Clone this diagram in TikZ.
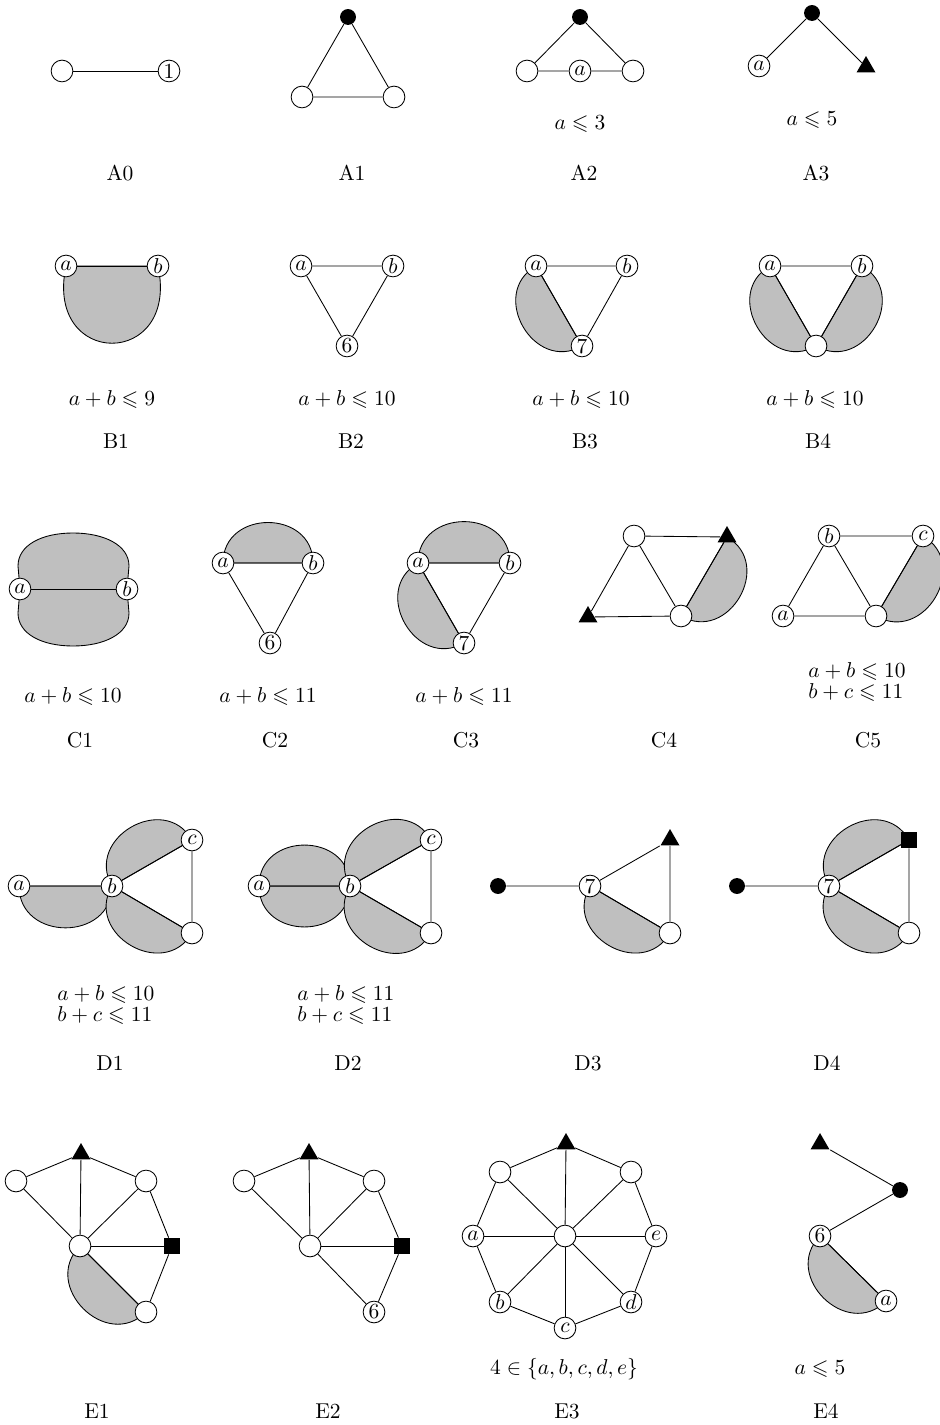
\documentclass[tikz,border=0pt]{standalone}
\usepackage{amssymb}
\usetikzlibrary{calc,shapes.geometric,backgrounds}
\tikzset{
  v/.style={circle,draw,fill=white,inner sep=0pt,minimum size=10.1pt},
  bd/.style={circle,fill=black,inner sep=0pt,minimum size=7.4pt},
  tri/.style={regular polygon,regular polygon sides=3,fill=black,inner sep=0pt,minimum size=10.2pt},
  sq/.style={rectangle,fill=black,inner sep=0pt,minimum size=7.4pt},
  lensf/.style={draw,fill=gray!50},
  txt/.style={inner sep=0pt},
  txttwo/.style={inner sep=0pt,align=left,anchor=west}
}
\newcommand{\lens}[3][0.6]{\path[lensf] (#2.center) .. controls ($(#2.center)!#1!-90:(#3.center)$) and ($(#3.center)!#1!90:(#2.center)$) .. (#3.center) -- cycle;}
\begin{document}
\begin{tikzpicture}[x=0.465pt,y=-0.465pt]
\useasboundingbox (0,0) rectangle (939,1425);
% ---------- row A
\node[v] (a0l) at (62,71) {};
\node[v] (a0r) at (169,71) {1};
\node[bd] (a1t) at (348,17) {};
\node[v] (a1l) at (302,97) {};
\node[v] (a1r) at (394,97) {};
\node[bd] (a2t) at (580,17) {};
\node[v] (a2l) at (527,71) {};
\node[v] (a2m) at (580,71) {$a$};
\node[v] (a2r) at (633,71) {};
\node[bd] (a3t) at (812,13) {};
\node[v] (a3a) at (759,66) {$a$};
\node[tri] (a3r) at (866,67) {};
\node[txt] (iA2) at (580,124) {$a\leqslant 3$};
\node[txt] (iA3) at (812,120) {$a\leqslant 5$};
\node[txt] (tA0) at (120,173) {A0};
\node[txt] (tA1) at (352,173) {A1};
\node[txt] (tA2) at (584,173) {A2};
\node[txt] (tA3) at (816,173) {A3};
% ---------- row B
\node[v] (b1a) at (66,266) {$a$};
\node[v] (b1b) at (158,266) {$b$};
\node[v] (b2a) at (301,266) {$a$};
\node[v] (b2b) at (393,266) {$b$};
\node[v] (b2c) at (347,346) {6};
\node[v] (b3a) at (536,266) {$a$};
\node[v] (b3b) at (627,266) {$b$};
\node[v] (b3c) at (582,346) {7};
\node[v] (b4a) at (770,266) {$a$};
\node[v] (b4b) at (862,266) {$b$};
\node[v] (b4c) at (816,346) {};
\node[txt] (iB1) at (112,400) {$a+b\leqslant 9$};
\node[txt] (iB2) at (347,400) {$a+b\leqslant 10$};
\node[txt] (iB3) at (581,400) {$a+b\leqslant 10$};
\node[txt] (iB4) at (815,400) {$a+b\leqslant 10$};
\node[txt] (tB1) at (116,441) {B1};
\node[txt] (tB2) at (351,441) {B2};
\node[txt] (tB3) at (585,441) {B3};
\node[txt] (tB4) at (818,441) {B4};
% ---------- row C
\node[v] (c1a) at (20,589) {$a$};
\node[v] (c1b) at (127,589) {$b$};
\node[v] (c2a) at (223,563) {$a$};
\node[v] (c2b) at (313,563) {$b$};
\node[v] (c2c) at (270,643) {6};
\node[v] (c3a) at (418,563) {$a$};
\node[v] (c3b) at (510,563) {$b$};
\node[v] (c3c) at (464,643) {7};
\node[v] (c4tl) at (634,536) {};
\node[tri] (c4tr) at (727,537) {};
\node[tri] (c4bl) at (588,617) {};
\node[v] (c4br) at (681,616) {};
\node[v] (c5b) at (829,536) {$b$};
\node[v] (c5c) at (923,536) {$c$};
\node[v] (c5a) at (783,616) {$a$};
\node[v] (c5d) at (876,616) {};
\node[txt] (iC1) at (73,696) {$a+b\leqslant 10$};
\node[txt] (iC2) at (268,696) {$a+b\leqslant 11$};
\node[txt] (iC3) at (464,696) {$a+b\leqslant 11$};
\node[txttwo] (iC5) at (808,682) {$a+b\leqslant 10$\\[-2.4pt]$b+c\leqslant 11$};
\node[txt] (tC1) at (80,740) {C1};
\node[txt] (tC2) at (275,740) {C2};
\node[txt] (tC3) at (466,740) {C3};
\node[txt] (tC4) at (664,740) {C4};
\node[txt] (tC5) at (868,740) {C5};
% ---------- row D
\node[v] (d1a) at (19,886) {$a$};
\node[v] (d1b) at (112,886) {$b$};
\node[v] (d1c) at (192,840) {$c$};
\node[v] (d1d) at (192,933) {};
\node[v] (d2a) at (259,886) {$a$};
\node[v] (d2b) at (350,886) {$b$};
\node[v] (d2c) at (431,840) {$c$};
\node[v] (d2d) at (431,933) {};
\node[bd] (d3p) at (498,886) {};
\node[v] (d3s) at (590,886) {7};
\node[tri] (d3t) at (670,840) {};
\node[v] (d3d) at (670,933) {};
\node[bd] (d4p) at (737,886) {};
\node[v] (d4s) at (829,886) {7};
\node[sq] (d4q) at (909,840) {};
\node[v] (d4d) at (909,933) {};
\node[txttwo] (iD1) at (57,1005) {$a+b\leqslant 10$\\[-2.4pt]$b+c\leqslant 11$};
\node[txttwo] (iD2) at (297,1005) {$a+b\leqslant 11$\\[-2.4pt]$b+c\leqslant 11$};
\node[txt] (tD1) at (110,1063) {D1};
\node[txt] (tD2) at (348,1063) {D2};
\node[txt] (tD3) at (588,1063) {D3};
\node[txt] (tD4) at (827,1063) {D4};
% ---------- row E
\node[v] (e1l) at (16,1181) {};
\node[tri] (e1t) at (81,1154) {};
\node[v] (e1r) at (146,1181) {};
\node[v] (e1c) at (80,1246) {};
\node[sq] (e1s) at (172,1246) {};
\node[v] (e1b) at (146,1312) {};
\node[v] (e2l) at (244,1181) {};
\node[tri] (e2t) at (309,1154) {};
\node[v] (e2r) at (374,1181) {};
\node[v] (e2c) at (310,1246) {};
\node[sq] (e2s) at (402,1246) {};
\node[v] (e2b) at (374,1312) {6};
\node[tri] (e3t) at (566,1144) {};
\node[v] (e3tl) at (500,1172) {};
\node[v] (e3tr) at (631,1172) {};
\node[v] (e3a) at (473,1236) {$a$};
\node[v] (e3o) at (565,1236) {};
\node[v] (e3e) at (656,1236) {$e$};
\node[v] (e3b) at (500,1302) {$b$};
\node[v] (e3d) at (631,1302) {$d$};
\node[v] (e3c) at (565,1328) {$c$};
\node[tri] (e4t) at (820,1144) {};
\node[bd] (e4p) at (900,1190) {};
\node[v] (e4s) at (820,1236) {6};
\node[v] (e4a) at (886,1301) {$a$};
\node[txt] (iE3) at (564,1369) {$4\in\{a,b,c,d,e\}$};
\node[txt] (iE4) at (820,1369) {$a\leqslant 5$};
\node[txt] (tE1) at (97,1411) {E1};
\node[txt] (tE2) at (328,1411) {E2};
\node[txt] (tE3) at (567,1411) {E3};
\node[txt] (tE4) at (826,1411) {E4};
% ---------- shaded regions and edges
\begin{scope}[on background layer]
\path[lensf] (b1a.center) .. controls (44,369) and (180,369) .. (b1b.center) -- cycle;
\lens{b3a}{b3c}
\lens{b4a}{b4c}
\lens{b4c}{b4b}
\path[lensf] (c1a.center) -- (18,566) .. controls (18,545) and (42,533) .. (73,533)
  .. controls (104,533) and (129,545) .. (129,566) -- (c1b.center) -- (129,613)
  .. controls (129,634) and (104,646) .. (73,646) .. controls (42,646) and (18,634) .. (18,613) -- cycle;
\lens{c2b}{c2a}
\lens{c3b}{c3a}
\lens{c3a}{c3c}
\lens{c4br}{c4tr}
\lens{c5d}{c5c}
\lens{d1a}{d1b}
\lens{d1c}{d1b}
\lens{d1b}{d1d}
\lens{d2a}{d2b}
\lens{d2b}{d2a}
\lens{d2c}{d2b}
\lens{d2b}{d2d}
\lens{d3s}{d3d}
\lens{d4q}{d4s}
\lens{d4s}{d4d}
\lens{e1c}{e1b}
\lens{e4s}{e4a}
% edges
\draw (a0l) -- (a0r);
\draw (a1t) -- (a1l) -- (a1r) -- (a1t);
\draw (a2t) -- (a2l) -- (a2m) -- (a2r) -- (a2t);
\draw (a3a) -- (a3t) -- (a3r);
\draw (b1a) -- (b1b);
\draw (b2a) -- (b2b) -- (b2c) -- (b2a);
\draw (b3a) -- (b3b) -- (b3c) -- (b3a);
\draw (b4a) -- (b4b) -- (b4c) -- (b4a);
\draw (c1a) -- (c1b);
\draw (c2a) -- (c2b) -- (c2c) -- (c2a);
\draw (c3a) -- (c3b) -- (c3c) -- (c3a);
\draw (c4tl) -- (c4tr) -- (c4br) -- (c4bl) -- (c4tl) -- (c4br);
\draw (c5b) -- (c5c) -- (c5d) -- (c5a) -- (c5b) -- (c5d);
\draw (d1a) -- (d1b) -- (d1c) -- (d1d) -- (d1b);
\draw (d2a) -- (d2b) -- (d2c) -- (d2d) -- (d2b);
\draw (d3p) -- (d3s) -- (d3t) -- (d3d) -- (d3s);
\draw (d4p) -- (d4s) -- (d4q) -- (d4d) -- (d4s);
\draw (e1l) -- (e1t) -- (e1r) -- (e1s) -- (e1b) -- (e1c) -- (e1l);
\draw (e1c) -- (e1t); \draw (e1c) -- (e1r); \draw (e1c) -- (e1s);
\draw (e2l) -- (e2t) -- (e2r) -- (e2s) -- (e2b) -- (e2c) -- (e2l);
\draw (e2c) -- (e2t); \draw (e2c) -- (e2r); \draw (e2c) -- (e2s);
\draw (e3t) -- (e3tr) -- (e3e) -- (e3d) -- (e3c) -- (e3b) -- (e3a) -- (e3tl) -- (e3t);
\foreach \n in {e3t,e3tr,e3e,e3d,e3c,e3b,e3a,e3tl} \draw (e3o) -- (\n);
\draw (e4t) -- (e4p) -- (e4s) -- (e4a);
\end{scope}
\end{tikzpicture}
\end{document}
